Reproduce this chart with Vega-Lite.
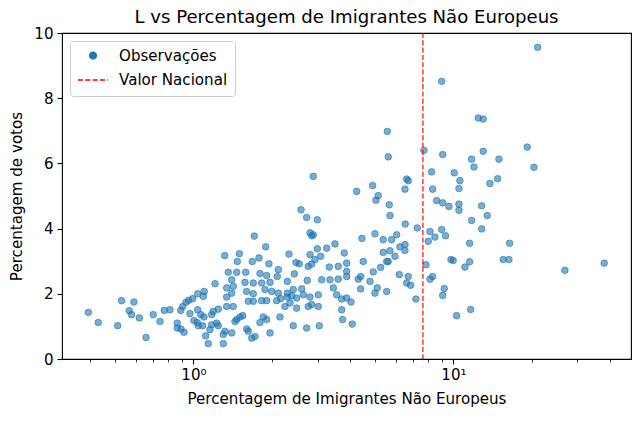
{
  "$schema": "https://vega.github.io/schema/vega-lite/v6.json",
  "width": 569,
  "height": 326,
  "autosize": {"type": "none"},
  "padding": {"left": 62, "top": 33, "right": 9, "bottom": 63},
  "background": "white",
  "title": {
    "text": "L vs Percentagem de Imigrantes Não Europeus",
    "fontSize": 18.1,
    "fontWeight": "normal",
    "font": "DejaVu Sans",
    "color": "black",
    "anchor": "middle",
    "frame": "group",
    "baseline": "alphabetic",
    "offset": 11,
    "dy": 26
  },
  "datasets": {
    "obs": [
      {"imigrantes": 0.394, "votos": 1.43}, {"imigrantes": 0.430, "votos": 1.12}, {"imigrantes": 0.511, "votos": 1.02},
      {"imigrantes": 0.529, "votos": 1.79}, {"imigrantes": 0.590, "votos": 1.75}, {"imigrantes": 0.566, "votos": 1.48},
      {"imigrantes": 0.578, "votos": 1.36}, {"imigrantes": 0.619, "votos": 1.26}, {"imigrantes": 0.657, "votos": 0.66},
      {"imigrantes": 0.700, "votos": 1.36}, {"imigrantes": 0.743, "votos": 1.15}, {"imigrantes": 0.772, "votos": 1.49},
      {"imigrantes": 0.812, "votos": 1.51}, {"imigrantes": 0.866, "votos": 1.10}, {"imigrantes": 0.866, "votos": 0.95},
      {"imigrantes": 0.895, "votos": 0.92}, {"imigrantes": 0.919, "votos": 0.82}, {"imigrantes": 0.893, "votos": 1.49},
      {"imigrantes": 0.909, "votos": 1.61}, {"imigrantes": 0.936, "votos": 1.74}, {"imigrantes": 0.958, "votos": 1.80},
      {"imigrantes": 0.993, "votos": 1.85}, {"imigrantes": 1.038, "votos": 2.00}, {"imigrantes": 0.969, "votos": 1.39},
      {"imigrantes": 1.038, "votos": 1.51}, {"imigrantes": 1.004, "votos": 1.18}, {"imigrantes": 1.034, "votos": 1.12},
      {"imigrantes": 1.043, "votos": 1.02}, {"imigrantes": 1.100, "votos": 2.07}, {"imigrantes": 1.091, "votos": 1.92},
      {"imigrantes": 1.066, "votos": 1.36}, {"imigrantes": 1.097, "votos": 1.29}, {"imigrantes": 1.085, "votos": 1.02},
      {"imigrantes": 1.114, "votos": 0.71}, {"imigrantes": 1.140, "votos": 0.47},
      {"imigrantes": 1.895, "votos": 3.44}, {"imigrantes": 1.318, "votos": 3.17}, {"imigrantes": 1.501, "votos": 3.23},
      {"imigrantes": 1.474, "votos": 2.99}, {"imigrantes": 1.684, "votos": 2.99}, {"imigrantes": 1.786, "votos": 3.10},
      {"imigrantes": 1.951, "votos": 2.92}, {"imigrantes": 2.120, "votos": 2.74}, {"imigrantes": 2.330, "votos": 3.22},
      {"imigrantes": 2.479, "votos": 2.96}, {"imigrantes": 2.552, "votos": 2.92}, {"imigrantes": 2.806, "votos": 3.20},
      {"imigrantes": 2.994, "votos": 3.38}, {"imigrantes": 3.253, "votos": 3.40}, {"imigrantes": 3.501, "votos": 3.53},
      {"imigrantes": 3.802, "votos": 3.25}, {"imigrantes": 2.933, "votos": 3.05}, {"imigrantes": 2.849, "votos": 2.91},
      {"imigrantes": 2.764, "votos": 2.84}, {"imigrantes": 3.085, "votos": 3.15}, {"imigrantes": 3.329, "votos": 2.82},
      {"imigrantes": 3.605, "votos": 2.84}, {"imigrantes": 3.884, "votos": 2.94}, {"imigrantes": 1.361, "votos": 2.66},
      {"imigrantes": 1.466, "votos": 2.66}, {"imigrantes": 1.588, "votos": 2.66}, {"imigrantes": 1.802, "votos": 2.62},
      {"imigrantes": 1.912, "votos": 2.56}, {"imigrantes": 2.101, "votos": 2.53}, {"imigrantes": 2.442, "votos": 2.61},
      {"imigrantes": 1.210, "votos": 2.31}, {"imigrantes": 1.403, "votos": 2.43}, {"imigrantes": 1.422, "votos": 2.23},
      {"imigrantes": 1.342, "votos": 2.18}, {"imigrantes": 1.578, "votos": 2.35}, {"imigrantes": 1.698, "votos": 2.33},
      {"imigrantes": 1.829, "votos": 2.33}, {"imigrantes": 1.969, "votos": 2.35}, {"imigrantes": 2.296, "votos": 2.38},
      {"imigrantes": 2.740, "votos": 2.41}, {"imigrantes": 3.112, "votos": 2.43}, {"imigrantes": 3.350, "votos": 2.43},
      {"imigrantes": 3.605, "votos": 2.45}, {"imigrantes": 3.884, "votos": 2.53}, {"imigrantes": 1.403, "votos": 2.02},
      {"imigrantes": 1.602, "votos": 2.07}, {"imigrantes": 1.698, "votos": 2.00}, {"imigrantes": 1.884, "votos": 2.13},
      {"imigrantes": 1.999, "votos": 2.07}, {"imigrantes": 2.120, "votos": 2.02}, {"imigrantes": 2.296, "votos": 2.02},
      {"imigrantes": 2.420, "votos": 2.13}, {"imigrantes": 2.608, "votos": 2.15}, {"imigrantes": 2.645, "votos": 1.97},
      {"imigrantes": 3.020, "votos": 1.97}, {"imigrantes": 3.450, "votos": 2.18}, {"imigrantes": 3.554, "votos": 1.97},
      {"imigrantes": 3.884, "votos": 1.87}, {"imigrantes": 1.342, "votos": 1.90}, {"imigrantes": 1.625, "votos": 1.77},
      {"imigrantes": 1.698, "votos": 1.77}, {"imigrantes": 1.829, "votos": 1.79}, {"imigrantes": 1.912, "votos": 1.79},
      {"imigrantes": 2.089, "votos": 1.79}, {"imigrantes": 2.165, "votos": 1.85}, {"imigrantes": 2.296, "votos": 1.90},
      {"imigrantes": 2.386, "votos": 1.94}, {"imigrantes": 2.494, "votos": 1.87}, {"imigrantes": 2.806, "votos": 1.90},
      {"imigrantes": 2.849, "votos": 1.67}, {"imigrantes": 1.342, "votos": 1.61}, {"imigrantes": 1.422, "votos": 1.61},
      {"imigrantes": 2.248, "votos": 1.61}, {"imigrantes": 2.350, "votos": 1.72}, {"imigrantes": 2.494, "votos": 1.56},
      {"imigrantes": 2.764, "votos": 1.61}, {"imigrantes": 3.020, "votos": 1.61}, {"imigrantes": 3.715, "votos": 1.51},
      {"imigrantes": 1.192, "votos": 1.46}, {"imigrantes": 1.175, "votos": 1.36}, {"imigrantes": 1.246, "votos": 1.53},
      {"imigrantes": 1.466, "votos": 1.21}, {"imigrantes": 1.510, "votos": 1.29}, {"imigrantes": 1.547, "votos": 1.33},
      {"imigrantes": 1.444, "votos": 1.15}, {"imigrantes": 1.175, "votos": 1.05}, {"imigrantes": 1.228, "votos": 1.10},
      {"imigrantes": 1.246, "votos": 1.02}, {"imigrantes": 1.157, "votos": 0.90}, {"imigrantes": 1.322, "votos": 0.85},
      {"imigrantes": 1.403, "votos": 0.80}, {"imigrantes": 1.602, "votos": 0.92}, {"imigrantes": 1.625, "votos": 0.85},
      {"imigrantes": 1.802, "votos": 1.12}, {"imigrantes": 1.855, "votos": 1.29}, {"imigrantes": 1.912, "votos": 1.21},
      {"imigrantes": 2.151, "votos": 1.29}, {"imigrantes": 1.969, "votos": 0.80}, {"imigrantes": 2.420, "votos": 1.02},
      {"imigrantes": 2.725, "votos": 0.95}, {"imigrantes": 3.047, "votos": 1.02}, {"imigrantes": 1.302, "votos": 0.75},
      {"imigrantes": 1.675, "votos": 0.64}, {"imigrantes": 1.724, "votos": 0.69}, {"imigrantes": 1.302, "votos": 0.47},
      {"imigrantes": 3.748, "votos": 1.21},
      {"imigrantes": 2.889, "votos": 5.60}, {"imigrantes": 2.592, "votos": 4.58}, {"imigrantes": 2.725, "votos": 4.34},
      {"imigrantes": 2.994, "votos": 4.27}, {"imigrantes": 2.806, "votos": 3.87}, {"imigrantes": 2.849, "votos": 3.78},
      {"imigrantes": 2.889, "votos": 3.81}, {"imigrantes": 1.713, "votos": 3.77},
      {"imigrantes": 5.566, "votos": 6.98}, {"imigrantes": 5.614, "votos": 6.20}, {"imigrantes": 7.70, "votos": 6.40},
      {"imigrantes": 8.245, "votos": 5.74}, {"imigrantes": 6.607, "votos": 5.52}, {"imigrantes": 6.702, "votos": 5.47},
      {"imigrantes": 6.509, "votos": 5.21}, {"imigrantes": 4.889, "votos": 5.32}, {"imigrantes": 4.244, "votos": 5.14},
      {"imigrantes": 5.137, "votos": 5.01}, {"imigrantes": 5.033, "votos": 4.87}, {"imigrantes": 5.664, "votos": 4.73},
      {"imigrantes": 5.699, "votos": 4.40}, {"imigrantes": 8.318, "votos": 5.21}, {"imigrantes": 8.618, "votos": 4.86},
      {"imigrantes": 6.525, "votos": 4.14}, {"imigrantes": 7.258, "votos": 4.02}, {"imigrantes": 4.990, "votos": 3.84},
      {"imigrantes": 4.447, "votos": 3.70}, {"imigrantes": 5.370, "votos": 3.66}, {"imigrantes": 5.785, "votos": 3.66},
      {"imigrantes": 6.047, "votos": 3.81}, {"imigrantes": 8.121, "votos": 3.91}, {"imigrantes": 8.488, "votos": 3.74},
      {"imigrantes": 8.000, "votos": 3.61}, {"imigrantes": 6.226, "votos": 3.44}, {"imigrantes": 6.509, "votos": 3.51},
      {"imigrantes": 6.509, "votos": 3.33}, {"imigrantes": 5.370, "votos": 3.27}, {"imigrantes": 5.699, "votos": 3.32},
      {"imigrantes": 5.957, "votos": 3.15}, {"imigrantes": 5.614, "votos": 2.99}, {"imigrantes": 4.498, "votos": 2.99},
      {"imigrantes": 5.248, "votos": 2.81}, {"imigrantes": 4.915, "votos": 2.67}, {"imigrantes": 5.536, "votos": 2.99},
      {"imigrantes": 3.884, "votos": 2.69}, {"imigrantes": 7.840, "votos": 2.89}, {"imigrantes": 6.187, "votos": 2.59},
      {"imigrantes": 6.702, "votos": 2.53}, {"imigrantes": 6.607, "votos": 2.33}, {"imigrantes": 6.845, "votos": 2.26},
      {"imigrantes": 4.304, "votos": 2.45}, {"imigrantes": 4.397, "votos": 2.53}, {"imigrantes": 4.774, "votos": 2.38},
      {"imigrantes": 5.092, "votos": 2.18}, {"imigrantes": 4.990, "votos": 2.02}, {"imigrantes": 5.536, "votos": 2.07},
      {"imigrantes": 4.397, "votos": 2.15}, {"imigrantes": 8.121, "votos": 2.45}, {"imigrantes": 8.318, "votos": 2.53},
      {"imigrantes": 7.175, "votos": 1.84}, {"imigrantes": 3.715, "votos": 1.84}, {"imigrantes": 4.035, "votos": 1.75},
      {"imigrantes": 4.081, "votos": 1.07},
      {"imigrantes": 21.08, "votos": 9.56}, {"imigrantes": 9.01, "votos": 8.52}, {"imigrantes": 12.46, "votos": 7.39},
      {"imigrantes": 13.02, "votos": 7.36}, {"imigrantes": 19.22, "votos": 6.50}, {"imigrantes": 13.02, "votos": 6.37},
      {"imigrantes": 9.09, "votos": 6.27}, {"imigrantes": 11.75, "votos": 6.13}, {"imigrantes": 14.96, "votos": 6.13},
      {"imigrantes": 11.99, "votos": 5.89}, {"imigrantes": 20.40, "votos": 5.88}, {"imigrantes": 10.07, "votos": 5.71},
      {"imigrantes": 10.59, "votos": 5.47}, {"imigrantes": 10.50, "votos": 5.23}, {"imigrantes": 13.81, "votos": 5.38},
      {"imigrantes": 14.79, "votos": 5.53}, {"imigrantes": 9.09, "votos": 4.79}, {"imigrantes": 9.61, "votos": 4.68},
      {"imigrantes": 10.50, "votos": 4.75}, {"imigrantes": 10.50, "votos": 4.56}, {"imigrantes": 12.84, "votos": 4.70},
      {"imigrantes": 13.49, "votos": 4.40}, {"imigrantes": 11.75, "votos": 4.25}, {"imigrantes": 12.84, "votos": 3.99},
      {"imigrantes": 9.01, "votos": 3.97}, {"imigrantes": 9.33, "votos": 3.78}, {"imigrantes": 11.54, "votos": 3.55},
      {"imigrantes": 16.45, "votos": 3.55}, {"imigrantes": 9.78, "votos": 3.05}, {"imigrantes": 9.98, "votos": 3.02},
      {"imigrantes": 11.54, "votos": 2.98}, {"imigrantes": 11.07, "votos": 2.82}, {"imigrantes": 15.54, "votos": 3.05},
      {"imigrantes": 16.35, "votos": 3.05}, {"imigrantes": 26.84, "votos": 2.72}, {"imigrantes": 38.02, "votos": 2.94},
      {"imigrantes": 9.22, "votos": 2.16}, {"imigrantes": 9.09, "votos": 1.95}, {"imigrantes": 11.65, "votos": 1.52},
      {"imigrantes": 10.29, "votos": 1.33}
    ],
    "nacional": [
      {"serie": "Valor Nacional", "imigrantes": 7.63}
    ]
  },
  "layer": [
    {
      "data": {"name": "obs"},
      "mark": {
        "type": "point",
        "filled": false,
        "fill": "#1f77b4",
        "fillOpacity": 0.6,
        "strokeWidth": 1,
        "strokeOpacity": 0.6
      },
      "encoding": {
        "x": {
          "field": "imigrantes",
          "type": "quantitative",
          "scale": {"type": "log", "domain": [0.312, 48.2], "nice": false},
          "axis": {
            "title": "Percentagem de Imigrantes Não Europeus",
            "values": [0.4, 0.5, 0.6, 0.7, 0.8, 0.9, 1, 2, 3, 4, 5, 6, 7, 8, 9, 10, 20, 30, 40],
            "labelExpr": "datum.value == 1 ? '10⁰' : (datum.value == 10 ? '10¹' : '')",
            "labelOverlap": false,
            "labelFlush": false,
            "tickSize": {"condition": {"test": "datum.value == 1 || datum.value == 10", "value": 5}, "value": 3},
            "tickWidth": {"condition": {"test": "datum.value == 1 || datum.value == 10", "value": 1.1}, "value": 0.8},
            "labelPadding": 3,
            "titlePadding": 9
          }
        },
        "y": {
          "field": "votos",
          "type": "quantitative",
          "scale": {"domain": [0, 10], "nice": false, "zero": false},
          "axis": {
            "title": "Percentagem de votos",
            "values": [0, 2, 4, 6, 8, 10],
            "tickSize": 5,
            "tickWidth": 1.1,
            "labelPadding": 4,
            "titlePadding": 9
          }
        },
        "color": {
          "datum": "Observações",
          "type": "nominal",
          "title": null,
          "scale": {"domain": ["Observações", "Valor Nacional"], "range": ["#1f77b4", "#ff0000"]}
        },
        "shape": {
          "datum": "Observações",
          "type": "nominal",
          "title": null,
          "scale": {"domain": ["Observações", "Valor Nacional"], "range": ["circle", "stroke"]}
        },
        "size": {
          "datum": "Observações",
          "type": "nominal",
          "title": null,
          "scale": {"type": "point", "padding": 0, "domain": ["Observações", "Valor Nacional"], "range": [44, 900]}
        }
      }
    },
    {
      "data": {"name": "nacional"},
      "mark": {"type": "rule", "strokeWidth": 1.4, "opacity": 0.85},
      "encoding": {
        "x": {"field": "imigrantes", "type": "quantitative"},
        "color": {"field": "serie", "type": "nominal", "title": null},
        "strokeDash": {
          "field": "serie",
          "type": "nominal",
          "title": null,
          "scale": {"domain": ["Observações", "Valor Nacional"], "range": [[1, 0], [5.1, 2.2]]}
        }
      }
    }
  ],
  "config": {
    "font": "DejaVu Sans",
    "view": {"stroke": "black", "strokeWidth": 1.1},
    "axis": {
      "domain": false,
      "grid": false,
      "labelFont": "DejaVu Sans",
      "titleFont": "DejaVu Sans",
      "labelFontSize": 15.1,
      "titleFontSize": 15.1,
      "titleFontWeight": "normal",
      "labelColor": "black",
      "titleColor": "black",
      "tickColor": "black"
    },
    "legend": {
      "orient": "top-left",
      "offset": 8,
      "padding": 7,
      "fillColor": "rgba(255,255,255,0.8)",
      "strokeColor": "#cccccc",
      "cornerRadius": 3,
      "labelFont": "DejaVu Sans",
      "labelFontSize": 15.1,
      "labelColor": "black",
      "labelLimit": 300,
      "labelOffset": 10,
      "rowPadding": -4
    }
  }
}
